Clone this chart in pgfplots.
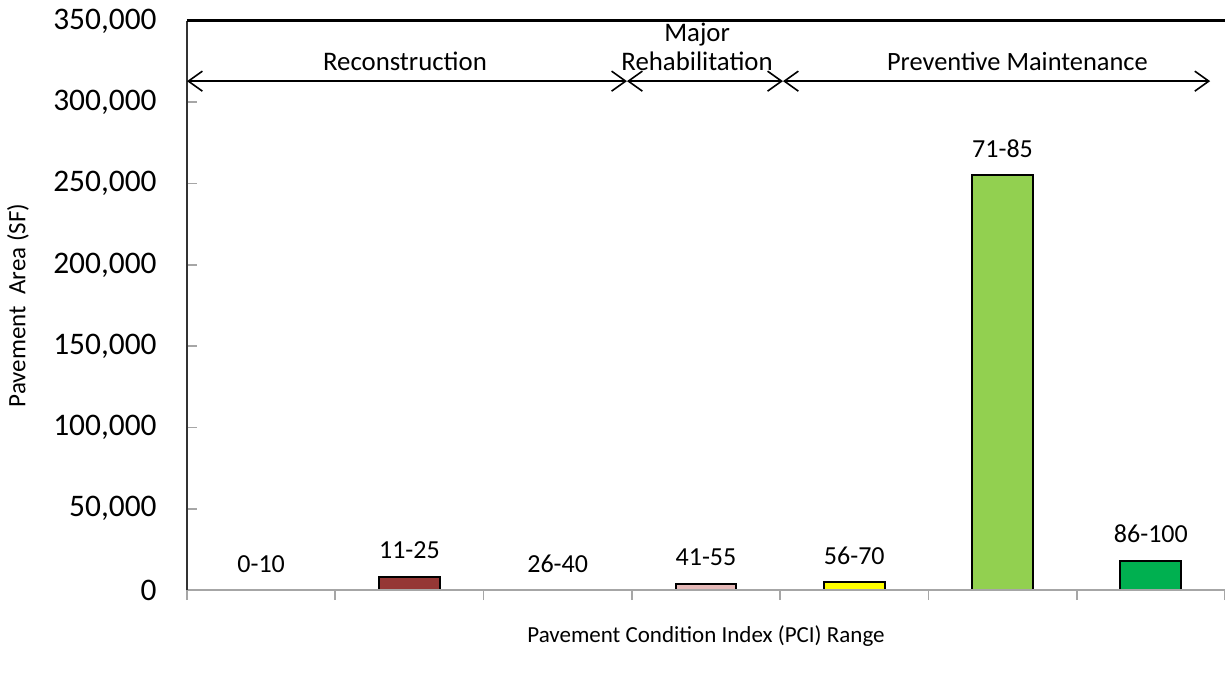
\documentclass[border=0pt]{standalone}
\usepackage{fontspec}
\setmainfont{Carlito}
\usepackage{pgfplots}
\pgfplotsset{compat=1.18}
\usetikzlibrary{arrows.meta}
\definecolor{cB}{HTML}{953735}
\definecolor{cD}{HTML}{E6B9B8}
\definecolor{cE}{HTML}{FFFF00}
\definecolor{cF}{HTML}{92D050}
\definecolor{cG}{HTML}{00B050}
\definecolor{axgray}{HTML}{A6A6A6}
\begin{document}
\begin{tikzpicture}
\begin{axis}[
  scale only axis, width=519pt, height=284.5pt,
  xmin=-0.5, xmax=6.5, ymin=0, ymax=350000,
  enlargelimits=false, clip=false,
  ybar, bar width=0.41,
  axis line style={draw=none},
  xtick={-0.5,0.5,...,6.5}, xticklabels={},
  ytick={0,50000,...,350000},
  xtick pos=bottom, ytick pos=left,
  tick align=inside, major tick length=5pt,
  x tick style={yshift=-5pt, draw=axgray, line width=0.8pt},
  y tick style={draw=axgray, line width=0.8pt},
  yticklabel style={font=\fontsize{15.7}{18}\selectfont, anchor=east, inner sep=0pt, xshift=-15pt},
  scaled y ticks=false,
  /pgf/number format/1000 sep={,},
  /pgf/number format/fixed,
  /pgf/number format/assume math mode=true,
  nodes near coords,
  point meta=explicit symbolic,
  every node near coord/.append style={font=\fontsize{13}{15}\selectfont, text=black, anchor=south, inner sep=0pt, yshift=8.5pt},
]
\addplot[draw=none, fill=none, bar shift=0pt] coordinates {(0,0) [0-10]};
\addplot[fill=cB, draw=black, line width=1pt, bar shift=0pt] coordinates {(1,8300) [11-25]};
\addplot[draw=none, fill=none, bar shift=0pt] coordinates {(2,0) [26-40]};
\addplot[fill=cD, draw=black, line width=1pt, bar shift=0pt] coordinates {(3,3800) [41-55]};
\addplot[fill=cE, draw=black, line width=1pt, bar shift=0pt] coordinates {(4,4800) [56-70]};
\addplot[fill=cF, draw=black, line width=1pt, bar shift=0pt] coordinates {(5,255000) [71-85]};
\addplot[fill=cG, draw=black, line width=1pt, bar shift=0pt] coordinates {(6,17800) [86-100]};
% axis lines
\draw[axgray, line width=1pt] (rel axis cs:0,0) -- (rel axis cs:1,0);
\draw[black!80, line width=1pt] (rel axis cs:0,0) -- (rel axis cs:0,1);
\draw[black, line width=1.5pt] (rel axis cs:0,1) -- (rel axis cs:1,1);
% annotation arrows
\draw[{Straight Barb[length=7pt,width=10pt]}-{Straight Barb[length=7pt,width=10pt]}, line width=0.8pt] (axis cs:-0.5,313000) -- (axis cs:2.467,313000);
\draw[{Straight Barb[length=7pt,width=10pt]}-{Straight Barb[length=7pt,width=10pt]}, line width=0.8pt] (axis cs:2.467,313000) -- (axis cs:3.519,313000);
\draw[{Straight Barb[length=7pt,width=10pt]}-{Straight Barb[length=7pt,width=10pt]}, line width=0.8pt] (axis cs:3.519,313000) -- (axis cs:6.40,313000);
\node[anchor=base, font=\fontsize{13.4}{15}\selectfont, yshift=5.5pt] at (axis cs:0.97,313000) {Reconstruction};
\node[anchor=base, font=\fontsize{13.4}{15}\selectfont, yshift=5.5pt] at (axis cs:2.94,313000) {Rehabilitation};
\node[anchor=base, font=\fontsize{13.4}{15}\selectfont, yshift=20pt] at (axis cs:2.94,313000) {Major};
\node[anchor=base, font=\fontsize{13.2}{15}\selectfont, yshift=5.5pt] at (axis cs:5.10,313000) {Preventive Maintenance};
% axis titles
\node[font=\fontsize{11.5}{14}\selectfont] at ([yshift=-23pt]rel axis cs:0.5,0) {Pavement Condition Index (PCI) Range};
\node[font=\fontsize{12.5}{14}\selectfont, rotate=90] at ([xshift=-84.5pt]rel axis cs:0,0.5) {Pavement\ \ Area (SF)};
\end{axis}
\pgfresetboundingbox
\path ([xshift=-93.5pt,yshift=-42.5pt]current axis.south west) rectangle ([yshift=10.5pt]current axis.north east);
\end{tikzpicture}
\end{document}
